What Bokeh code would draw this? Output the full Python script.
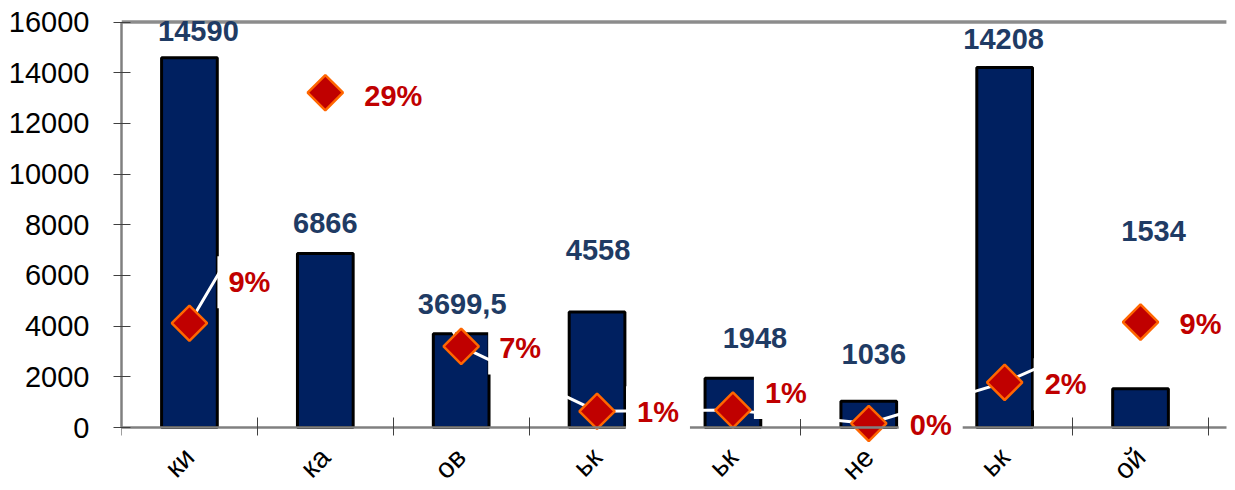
from math import pi
from bokeh.plotting import figure
from bokeh.models import Range1d, FixedTicker, Label
from bokeh.embed import file_html
from bokeh.resources import INLINE

# ---- data ----
categories = ["ки", "ка", "ов", "ьк", "ьк", "не", "ьк", "ой"]
volumes = [14590, 6866, 3699.5, 4558, 1948, 1036, 14208, 1534]
shares = [0.090, 0.289, 0.070, 0.014, 0.015, 0.0035, 0.039, 0.091]
share_labels = ["9%", "29%", "7%", "1%", "1%", "0%", "2%", "9%"]
y_ticks = [0, 2000, 4000, 6000, 8000, 10000, 12000, 14000, 16000]

# ---- label placement (pixels) ----
value_dx = [9, 0, 1, 1, 22, 5, -1, 13]
value_dy = [27, 31, 30, 62, 40, 47, 28, 158]
share_dx = [28, 28, 27, 29, 21, 30, 29, 28]
share_dy = [41, -3, -2, -1, 17, -2, -2, -2]

n = len(categories)
centers = [i + 0.5 for i in range(n)]
bounds = [float(i) for i in range(n + 1)]
x_axis_end = 8.132   # where the drawn axis / top rule stop

p = figure(width=1235, height=490, x_range=Range1d(0, 8.199), y_range=Range1d(-2486, 16100),
           min_border_left=121, min_border_right=0, min_border_top=19, min_border_bottom=0,
           toolbar_location=None, output_backend="svg", outline_line_color=None,
           background_fill_color="white", border_fill_color="white")
p.extra_y_ranges = {"pct": Range1d(-2486 / 16000 * 0.35, 16100 / 16000 * 0.35)}
p.xgrid.visible = False
p.ygrid.visible = False

p.vbar(x=centers, top=volumes, width=0.41, fill_color="#002060",
       line_color="black", line_width=3)
p.line(centers, shares, y_range_name="pct", line_color="white", line_width=3)
p.scatter(centers, shares, y_range_name="pct", marker="square", angle=pi / 4, size=25,
          fill_color="#C00000", line_color="#FF6600", line_width=2.5)

# top rule of the plot area
p.segment(x0=[0], y0=[y_ticks[-1]], x1=[x_axis_end], y1=[y_ticks[-1]],
          line_color="#8c8c8c", line_width=3.5)

# y axis
ya = p.yaxis[0]
ya.ticker = FixedTicker(ticks=y_ticks, minor_ticks=[])
ya.bounds = (0, 16000)
ya.major_label_text_font = "Liberation Sans"
ya.major_label_text_font_size = "29px"
ya.major_label_text_color = "black"
ya.axis_line_color = "#808080"
ya.axis_line_width = 2.5
ya.major_tick_line_color = "#404040"
ya.major_tick_in = 9
ya.major_tick_out = 8
ya.major_label_standoff = 24

# x axis (drawn at y = 0)
xa = p.xaxis[0]
xa.fixed_location = 0
xa.bounds = (0, x_axis_end)
xa.ticker = FixedTicker(ticks=centers, minor_ticks=bounds)
xa.major_label_overrides = {c: lab for c, lab in zip(centers, categories)}
xa.major_label_text_font = "Liberation Sans"
xa.major_label_text_font_size = "28px"
xa.major_label_text_color = "black"
xa.major_label_orientation = pi / 4
xa.major_tick_in = 0
xa.major_tick_out = 0
xa.minor_tick_in = 10
xa.minor_tick_out = 8
xa.minor_tick_line_color = "#404040"
xa.axis_line_color = "#808080"
xa.axis_line_width = 2.5
xa.major_label_standoff = 17

for i in range(n):
    txt = f"{volumes[i]:g}".replace(".", ",")
    p.add_layout(Label(x=centers[i], y=volumes[i], x_offset=value_dx[i], y_offset=value_dy[i],
                       text=txt, text_align="center", text_baseline="middle",
                       text_font="Liberation Sans", text_font_style="bold",
                       text_font_size="29px", text_color="#1F3B64"))

for i in range(n):
    p.add_layout(Label(x=centers[i], y=shares[i], y_range_name="pct",
                       x_offset=share_dx[i], y_offset=share_dy[i],
                       text=share_labels[i], text_align="left", text_baseline="middle",
                       text_font="Liberation Sans", text_font_style="bold",
                       text_font_size="29px", text_color="#C00000",
                       background_fill_color="white",
                       padding=dict(left=11, right=11, top=10, bottom=10)))

open("out.html", "w").write(file_html(p, INLINE))
